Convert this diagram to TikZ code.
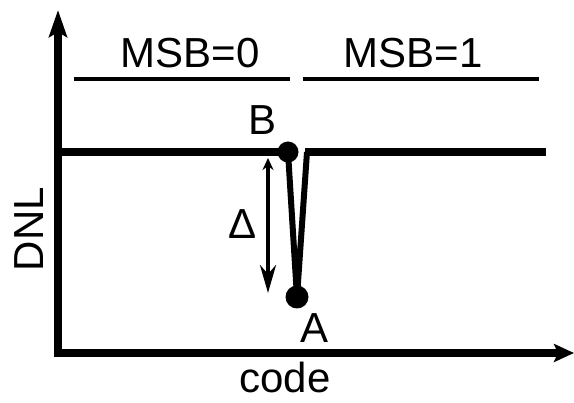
\documentclass[tikz,border=0pt]{standalone}
\usepackage{fontspec}
\setmainfont{Liberation Sans}
\usetikzlibrary{arrows.meta}
\begin{document}
\begin{tikzpicture}[x=1pt,y=-1pt,
  lbl/.style={inner sep=0pt,anchor=base,font=\fontsize{42}{48}\selectfont},
  axisline/.style={line width=8pt},
  bar/.style={line width=4pt},
  dnl/.style={line width=8pt},
  vline/.style={line width=6pt,line join=miter},
  dot/.style={circle,fill=black,inner sep=0pt}]
\useasboundingbox (0,0) rectangle (574,403);
% axes
\coordinate (yb) at (58,357);
\coordinate (ytip) at (58,10);
\coordinate (xl) at (54,353);
\coordinate (xtip) at (574,353);
\draw[axisline,-{Stealth[length=27pt,width=18pt,inset=5pt]}] (yb) -- (ytip);
\draw[axisline,-{Stealth[length=20pt,width=18pt,inset=4pt]}] (xl) -- (xtip);
% MSB bars
\coordinate (m0l) at (74,79);
\coordinate (m0r) at (290,79);
\coordinate (m1l) at (303,79);
\coordinate (m1r) at (539,79);
\draw[bar] (m0l) -- (m0r);
\draw[bar] (m1l) -- (m1r);
\node[lbl] (msb0) at (190,68) {MSB=0};
\node[lbl] (msb1) at (413,68) {MSB=1};
% DNL curve
\coordinate (dl) at (58,152);
\coordinate (B) at (288,152);
\coordinate (A) at (297,297);
\coordinate (vr) at (307,152);
\coordinate (dr) at (546,152);
\draw[dnl] (dl) -- (B);
\draw[vline] (B) -- (A) -- (vr);
\draw[dnl] ([xshift=-2pt]vr) -- (dr);
\node[dot,minimum size=21pt] (Bdot) at (B) {};
\node[dot,minimum size=23pt] (Adot) at (A) {};
\node[lbl] (Blbl) at (263,135) {B};
\node[lbl] (Albl) at (315,343) {A};
% Delta arrow
\coordinate (dt) at (268,158);
\coordinate (db) at (268,293);
\draw[line width=4pt,{Stealth[length=12pt,width=11pt]}-{Stealth[length=28pt,width=16pt]}] (dt) -- (db);
\node[lbl] (delta) at (243,239) {Δ};
% axis labels
\node[lbl] (code) at (285,393) {code};
\node[lbl,rotate=90] (dnllbl) at (43,229) {DNL};
\end{tikzpicture}
\end{document}
